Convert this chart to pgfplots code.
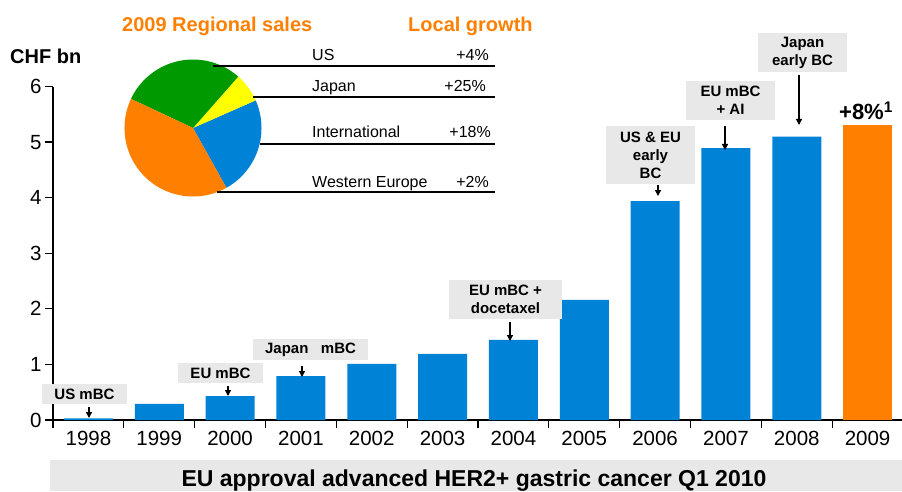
\documentclass[border=0pt]{standalone}
\usepackage{fontspec}
\setmainfont{Liberation Sans}
\usepackage{pgfplots}
\pgfplotsset{compat=1.18}
\usetikzlibrary{arrows.meta}

\definecolor{hblue}{RGB}{0,130,215}
\definecolor{horange}{RGB}{255,128,0}
\definecolor{pgreen}{RGB}{0,153,0}
\definecolor{pyellow}{RGB}{255,255,0}
\definecolor{boxgray}{RGB}{232,232,232}

\tikzset{
  box/.style={fill=boxgray, inner sep=0pt, align=center,
    font=\fontsize{15}{18}\selectfont\bfseries},
  pointer/.style={-{Triangle[length=6pt,width=6pt]}, line width=1.3pt},
  title/.style={anchor=base west, inner sep=0pt, text=horange,
    font=\fontsize{20}{24}\selectfont\bfseries},
  region/.style={anchor=base west, inner sep=0pt, font=\fontsize{16}{19}\selectfont},
  growth/.style={anchor=base east, inner sep=0pt, font=\fontsize{16}{19}\selectfont}
}

% sales in CHF bn
\pgfplotstableread{
x  y
0  0.03
1  0.29
2  0.43
3  0.79
4  1.01
5  1.19
6  1.44
7  2.16
8  3.94
9  4.89
10 5.10
}\herceptin

% 2009 regional shares in %: International, Japan, US, Western Europe
\def\shIntl{23.5}
\def\shJapan{6.9}
\def\shUS{29.5}
\def\shWE{40.1}

\begin{document}
\begin{tikzpicture}
\path[use as bounding box] (0,0) rectangle (902pt,491pt);

\begin{axis}[
  at={(53pt,71pt)}, anchor=south west,
  scale only axis, width=850pt, height=333.5pt,
  xmin=-0.5, xmax=11.5, ymin=0, ymax=6,
  axis x line=bottom, axis y line=left,
  axis line style={line width=1.2pt, -},
  xtick={-0.5,0.5,...,11.5},
  xticklabels={1998,1999,2000,2001,2002,2003,2004,2005,2006,2007,2008,2009},
  x tick label as interval,
  ytick={0,1,...,6},
  tick align=outside, major tick length=8pt,
  tick style={black, line width=1.2pt},
  ticklabel style={font=\fontsize{20.5}{24}\selectfont},
  /pgf/number format/assume math mode=true,
  clip=false,
]
\addplot[ybar, bar width=49pt, bar shift=0pt, fill=hblue, draw=none]
  table[x=x, y=y] {\herceptin};
\addplot[ybar, bar width=49pt, bar shift=0pt, fill=horange, draw=none]
  coordinates {(11,5.30)};
\end{axis}

% pie of 2009 regional sales
\pgfmathsetmacro\aA{-60.8}
\pgfmathsetmacro\aB{\aA+3.6*\shIntl}
\pgfmathsetmacro\aC{\aB+3.6*\shJapan}
\pgfmathsetmacro\aD{\aC+3.6*\shUS}
\pgfmathsetmacro\aE{\aD+3.6*\shWE}
\begin{axis}[
  at={(193pt,363pt)}, anchor=center,
  scale only axis, width=137pt, height=137pt,
  xmin=-1, xmax=1, ymin=-1, ymax=1,
  hide axis, clip=false,
]
\fill[hblue] (axis cs:0,0) -- (axis cs:{cos(\aA)},{sin(\aA)})
  arc[start angle=\aA, end angle=\aB, radius=68.5pt] -- cycle;
\fill[pyellow] (axis cs:0,0) -- (axis cs:{cos(\aB)},{sin(\aB)})
  arc[start angle=\aB, end angle=\aC, radius=68.5pt] -- cycle;
\fill[pgreen] (axis cs:0,0) -- (axis cs:{cos(\aC)},{sin(\aC)})
  arc[start angle=\aC, end angle=\aD, radius=68.5pt] -- cycle;
\fill[horange] (axis cs:0,0) -- (axis cs:{cos(\aD)},{sin(\aD)})
  arc[start angle=\aD, end angle=\aE, radius=68.5pt] -- cycle;
\end{axis}

% texts and call-outs, in pixel units from the top left
\begin{scope}[x=1pt, y=-1pt, shift={(0pt,491pt)}]
\node[anchor=base west, inner sep=0pt, font=\fontsize{20}{24}\selectfont\bfseries]
  at (10,64) {CHF bn};
\node[title] at (122,32) {2009 Regional sales};
\node[title] at (408,32) {Local growth};

\draw[line width=1.2pt] (213,66) -- (495,66);
\draw[line width=1.2pt] (253,97) -- (495,97);
\draw[line width=1.2pt] (260,144) -- (495,144);
\draw[line width=1.2pt] (217,192) -- (495,192);
\node[region] at (312,61) {US};
\node[region] at (312,92) {Japan};
\node[region] at (312,138) {International};
\node[region] at (312,187) {Western Europe};
\node[growth] at (489,61) {+4\%};
\node[growth] at (486,92) {+25\%};
\node[growth] at (491,138) {+18\%};
\node[growth] at (489,187) {+2\%};

\node[box, minimum width=85pt, minimum height=20pt] at (84.5,394) {US mBC};
\draw[pointer] (89,407) -- (89,418);
\node[box, minimum width=85pt, minimum height=20pt] at (220.5,373) {EU mBC};
\draw[pointer] (228,386) -- (228,396);
\node[box, minimum width=115pt, minimum height=21pt] at (310.5,349.5) {Japan\hspace{12.5pt}mBC};
\draw[pointer] (302,366) -- (302,377);
\node[box, minimum width=113pt, minimum height=39pt] at (505.5,299.5) {EU mBC +\\docetaxel};
\draw[pointer] (510,322) -- (510,341);
\node[box, minimum width=89pt, minimum height=58pt] at (650.5,155) {US \& EU\\early\\BC};
\draw[pointer] (658,185) -- (658,196);
\node[box, minimum width=89pt, minimum height=39pt] at (730.5,100.5) {EU mBC\\+ AI};
\draw[pointer] (725,126) -- (725,150);
\node[box, minimum width=89pt, minimum height=39pt] at (802.5,52.5) {Japan\\early BC};
\draw[pointer] (799,75) -- (799,125);

\node[anchor=base, inner sep=0pt, font=\fontsize{22}{26}\selectfont\bfseries]
  at (866,120) {+8\%\textsuperscript{1}};

\fill[boxgray] (50,460) rectangle (902,491);
\node[anchor=base, inner sep=0pt, font=\fontsize{23}{27}\selectfont\bfseries]
  at (474,486.5) {EU approval advanced HER2+ gastric cancer Q1 2010};
\end{scope}
\end{tikzpicture}
\end{document}
